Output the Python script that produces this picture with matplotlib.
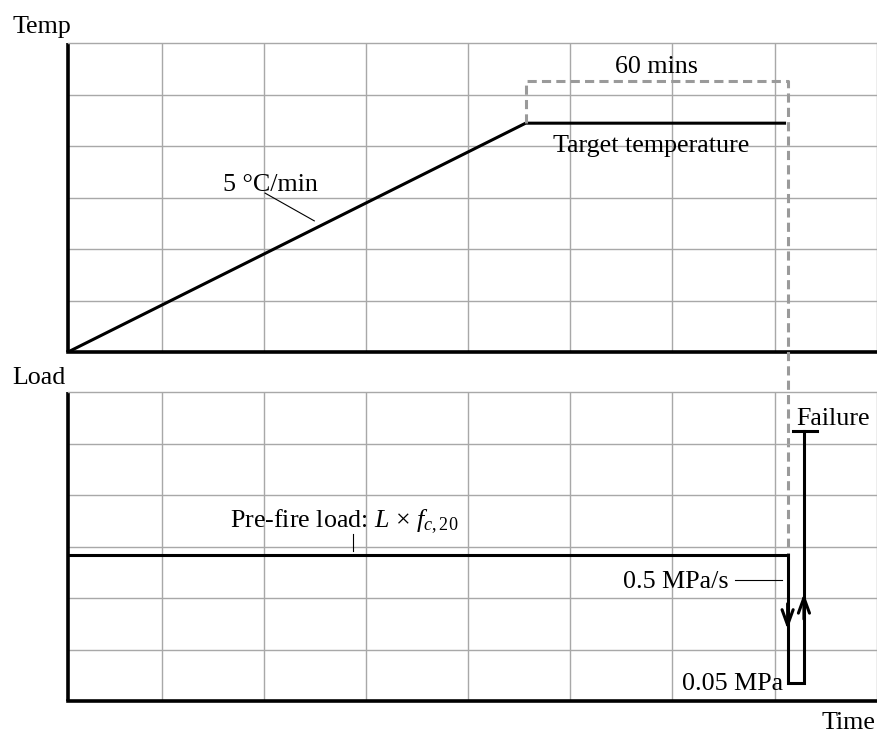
import matplotlib
matplotlib.use('Agg')
import matplotlib.pyplot as plt

plt.rcParams['font.family'] = ['Liberation Serif', 'DejaVu Serif']
plt.rcParams['mathtext.fontset'] = 'custom'
plt.rcParams['mathtext.rm'] = 'Liberation Serif'
plt.rcParams['mathtext.it'] = 'Liberation Serif:italic'

# time axis in grid units (left axis = 0)
grid_x = [0.917, 1.917, 2.917, 3.917, 4.917, 5.917, 6.917]
grid_y = [1, 2, 3, 4, 5]

# temperature schedule
temp_time = [0, 4.48, 7.03]
temp_vals = [0, 4.45, 4.45]
box_time = [4.48, 4.48, 7.045, 7.045]
box_top = 5.28

# load schedule
load_time = [0, 7.045, 7.045, 7.205, 7.205]
load_vals = [2.83, 2.83, 0.355, 0.355, 5.25]
fail_cap_x = [7.095, 7.33]
down_tip = (7.045, 1.39)
up_tip = (7.205, 2.09)

FS = 18.7
GRID = '#a8a8a8'
DASH = '#9a9a9a'

fig = plt.figure(figsize=(8.78, 7.37), dpi=100)
ax_t = fig.add_axes([0.0775, 0.5224, 0.9211, 0.4186])
ax_b = fig.add_axes([0.0775, 0.0488, 0.9211, 0.4193])

for ax in (ax_t, ax_b):
    ax.set_xlim(0, 7.918)
    ax.set_ylim(0, 6)
    ax.set_xticks(grid_x)
    ax.set_yticks(grid_y)
    ax.tick_params(length=0, labelbottom=False, labelleft=False)
    ax.grid(True, color=GRID, lw=1.0)
    ax.spines['left'].set_linewidth(2.6)
    ax.spines['bottom'].set_linewidth(2.6)
    ax.spines['left'].set_capstyle('butt')
    ax.spines['top'].set_color(GRID)
    ax.spines['right'].set_color(GRID)
    ax.spines['top'].set_linewidth(1.0)
    ax.spines['right'].set_linewidth(1.0)
    ax.set_axisbelow(True)
ax_b.patch.set_visible(False)

# top panel
ax_t.plot(temp_time, temp_vals, color='black', lw=2.2, solid_capstyle='butt')
# dashed guide running down into the load panel
y_end = ax_t.transData.inverted().transform(
    ax_b.transData.transform((box_time[-1], load_vals[0])))[1]
ax_t.plot(box_time, [temp_vals[1], box_top, box_top, y_end], color=DASH, lw=2.2,
          dashes=(3.0, 1.7), clip_on=False, zorder=5)
ax_t.plot([1.929, 2.411], [3.09, 2.55], color='black', lw=0.8)
ax_t.text(1.978, 3.13, '5 °C/min', fontsize=FS, ha='center', va='baseline')
ax_t.text(5.714, 3.88, 'Target temperature', fontsize=FS, ha='center', va='baseline')
ax_t.text(5.762, 5.434, '60 mins', fontsize=FS, ha='center', va='baseline')

# bottom panel
ax_b.plot(load_time, load_vals, color='black', lw=2.2, solid_joinstyle='miter')
ax_b.plot(fail_cap_x, [load_vals[-1]] * 2, color='black', lw=2.2)
for tip, dy in ((down_tip, 0.5), (up_tip, -0.5)):
    ax_b.annotate('', xy=tip, xytext=(tip[0], tip[1] + dy),
                  arrowprops=dict(arrowstyle='->, head_length=0.55, head_width=0.2',
                                  lw=2.2, color='black', shrinkA=0, shrinkB=0,
                                  mutation_scale=20))
ax_b.plot([2.793, 2.793], [3.24, 2.91], color='black', lw=0.8)
ax_b.text(1.586, 3.36, 'Pre-fire load: $L$ × $f_{c,20}$', fontsize=FS,
          ha='left', va='baseline')
ax_b.plot([6.53, 6.99], [2.35, 2.35], color='black', lw=0.8)
ax_b.text(6.466, 2.19, '0.5 MPa/s', fontsize=FS, ha='right', va='baseline')
ax_b.text(7.0, 0.214, '0.05 MPa', fontsize=FS, ha='right', va='baseline')
ax_b.text(7.134, 5.36, 'Failure', fontsize=FS, ha='left', va='baseline')

fig.text(13 / 878, 1 - 32.5 / 737, 'Temp', fontsize=FS, ha='left', va='baseline')
fig.text(12.7 / 878, 1 - 384 / 737, 'Load', fontsize=FS, ha='left', va='baseline')
fig.text(876 / 878, 1 - 729 / 737, 'Time', fontsize=FS, ha='right', va='baseline')

fig.savefig('out.png', dpi=100)
